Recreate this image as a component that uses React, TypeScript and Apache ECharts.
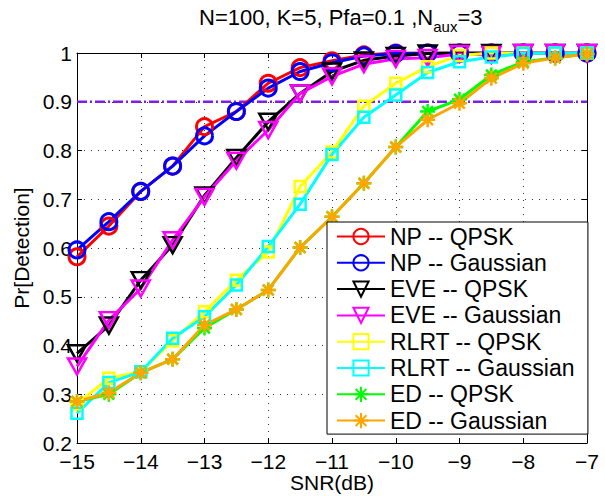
import React, { useEffect, useRef } from "react";
import * as echarts from "echarts";

const snr = [-15, -14.5, -14, -13.5, -13, -12.5, -12, -11.5, -11, -10.5, -10, -9.5, -9, -8.5, -8, -7.5, -7];

const npQpsk = [0.582, 0.645, 0.716, 0.768, 0.849, 0.88, 0.938, 0.97, 0.984, 0.996, 1, 1, 1, 1, 1, 1, 1];
const npGauss = [0.596, 0.654, 0.716, 0.768, 0.83, 0.88, 0.928, 0.962, 0.98, 0.994, 0.999, 1, 1, 1, 1, 1, 1];
const eveQpsk = [0.384, 0.441, 0.534, 0.606, 0.708, 0.785, 0.859, 0.917, 0.962, 0.985, 0.994, 0.999, 1, 1, 1, 1, 1];
const eveGauss = [0.357, 0.452, 0.517, 0.616, 0.705, 0.779, 0.842, 0.917, 0.952, 0.977, 0.988, 0.99, 0.998, 0.996, 1, 1, 1];
const rlrtQpsk = [0.28, 0.333, 0.346, 0.41, 0.469, 0.534, 0.592, 0.726, 0.797, 0.891, 0.938, 0.972, 0.995, 1, 1, 1, 1];
const rlrtGauss = [0.261, 0.324, 0.346, 0.415, 0.459, 0.524, 0.603, 0.69, 0.792, 0.868, 0.914, 0.96, 0.982, 0.992, 0.999, 1, 1];
const edQpsk = [0.285, 0.3, 0.344, 0.372, 0.436, 0.474, 0.514, 0.601, 0.664, 0.733, 0.807, 0.88, 0.905, 0.955, 0.982, 0.99, 0.998];
const edGauss = [0.285, 0.303, 0.344, 0.372, 0.442, 0.474, 0.514, 0.601, 0.664, 0.733, 0.807, 0.863, 0.897, 0.948, 0.979, 0.99, 0.998];

const threshold = 0.9;

const seriesNames = [
  "NP -- QPSK",
  "NP -- Gaussian",
  "EVE -- QPSK",
  "EVE -- Gaussian",
  "RLRT -- QPSK",
  "RLRT -- Gaussian",
  "ED -- QPSK",
  "ED -- Gaussian",
];
const seriesValues = [npQpsk, npGauss, eveQpsk, eveGauss, rlrtQpsk, rlrtGauss, edQpsk, edGauss];
const seriesColors = ["#ff0000", "#0000ff", "#000000", "#ff00ff", "#ffff00", "#00ffff", "#00ff00", "#ffa500"];
const seriesMarkers = ["circle", "circle", "tri", "tri", "square", "square", "star", "star"];

const FONT = "'Liberation Sans', Arial, Helvetica, sans-serif";

const STAR = "path://M0,8 L16,8 M8,0 L8,16 M2.3,2.3 L13.7,13.7 M13.7,2.3 L2.3,13.7";
const TRI_DOWN = "path://M0,0 L20,0 L10,17.3 Z";

function markerOpts(kind: string) {
  switch (kind) {
    case "circle":
      return { symbol: "circle", symbolSize: 16, borderWidth: 3 };
    case "tri":
      return { symbol: TRI_DOWN, symbolSize: [18, 16], borderWidth: 2.5 };
    case "square":
      return { symbol: "rect", symbolSize: 11, borderWidth: 2.5 };
    default:
      return { symbol: STAR, symbolSize: 15, borderWidth: 2.5, keep: true };
  }
}

const fmtNum = (v: number) => (v < 0 ? "\u2212" + String(Math.abs(v)) : String(v));

export default function App() {
  const ref = useRef<HTMLDivElement>(null);

  useEffect(() => {
    if (!ref.current) return;
    const chart = echarts.init(ref.current, null, { renderer: "svg" });

    const lineSeries: any[] = seriesNames.map((name, i) => {
      const m: any = markerOpts(seriesMarkers[i]);
      return {
        name,
        type: "line",
        data: snr.map((x, j) => [x, seriesValues[i][j]]),
        symbol: m.symbol,
        symbolSize: m.symbolSize,
        symbolKeepAspect: !!m.keep,
        showSymbol: true,
        lineStyle: { color: seriesColors[i], width: 3 },
        itemStyle: { color: "rgba(0,0,0,0)", borderColor: seriesColors[i], borderWidth: m.borderWidth },
        emphasis: { disabled: true },
        z: 3,
      };
    });

    const option: any = {
      animation: false,
      backgroundColor: "#ffffff",
      title: {
        text: "{a|N=100, K=5, Pfa=0.1 ,N}{s|aux}{a|=3}",
        left: 194,
        top: 1,
        textStyle: {
          fontWeight: "normal",
          rich: {
            a: { fontSize: 22, lineHeight: 23, fontWeight: "normal", color: "#000", fontFamily: FONT, verticalAlign: "top" },
            s: { fontSize: 15, lineHeight: 15, fontWeight: "normal", color: "#000", fontFamily: FONT, verticalAlign: "top", padding: [13, 0, 0, 0] },
          },
        },
      },
      grid: { left: 77, top: 53, right: 18, bottom: 53, containLabel: false, outerBoundsMode: "none" },
      legend: {
        data: seriesNames,
        orient: "vertical",
        left: 327,
        top: 222,
        itemWidth: 48,
        itemHeight: 19,
        itemGap: 3.3,
        padding: [3, 13, 2, 9],
        backgroundColor: "#ffffff",
        borderColor: "#000000",
        borderWidth: 1,
        borderRadius: 0,
        selectedMode: false,
        textStyle: { fontSize: 23, lineHeight: 23, color: "#000", fontFamily: FONT },
      },
      xAxis: [
        {
          type: "value",
          min: -15,
          max: -7,
          interval: 1,
          position: "bottom",
          name: "SNR(dB)",
          nameLocation: "middle",
          nameGap: 31,
          nameMoveOverlap: false,
          nameTextStyle: { fontSize: 21, lineHeight: 17, color: "#000", fontFamily: FONT },
          axisLine: { show: true, onZero: false, lineStyle: { color: "#000", width: 1 } },
          axisTick: { show: true, inside: true, length: 5, lineStyle: { color: "#000" } },
          axisLabel: { fontSize: 21, lineHeight: 17, color: "#000", fontFamily: FONT, margin: 10, formatter: fmtNum },
          splitLine: { show: true, lineStyle: { color: "#333", width: 1, type: [1, 6] } },
        },
        {
          type: "value",
          min: -15,
          max: -7,
          interval: 1,
          position: "top",
          axisLine: { show: true, onZero: false, lineStyle: { color: "#000", width: 1 } },
          axisTick: { show: true, inside: true, length: 5, lineStyle: { color: "#000" } },
          axisLabel: { show: false },
          splitLine: { show: false },
        },
      ],
      yAxis: [
        {
          type: "value",
          min: 0.2,
          max: 1,
          interval: 0.1,
          position: "left",
          name: "Pr[Detection]",
          nameLocation: "middle",
          nameGap: 45,
          nameMoveOverlap: false,
          nameTextStyle: { fontSize: 21, color: "#000", fontFamily: FONT },
          axisLine: { show: true, onZero: false, lineStyle: { color: "#000", width: 1 } },
          axisTick: { show: true, inside: true, length: 5, lineStyle: { color: "#000" } },
          axisLabel: {
            fontSize: 21,
            lineHeight: 17,
            color: "#000",
            fontFamily: FONT,
            margin: 5,
            formatter: (v: number) => String(Math.round(v * 10) / 10),
          },
          splitLine: { show: true, lineStyle: { color: "#333", width: 1, type: [1, 6] } },
        },
        {
          type: "value",
          min: 0.2,
          max: 1,
          interval: 0.1,
          position: "right",
          axisLine: { show: true, onZero: false, lineStyle: { color: "#000", width: 1 } },
          axisTick: { show: true, inside: true, length: 5, lineStyle: { color: "#000" } },
          axisLabel: { show: false },
          splitLine: { show: false },
        },
      ],
      series: [
        {
          name: "threshold",
          type: "line",
          data: [
            [snr[0], threshold],
            [snr[snr.length - 1], threshold],
          ],
          showSymbol: false,
          symbol: "none",
          lineStyle: { color: "#7f1fe6", width: 2.5, type: [10, 3, 2, 3] },
          emphasis: { disabled: true },
          z: 2,
        },
        ...lineSeries,
      ],
    };

    chart.setOption(option);
    return () => chart.dispose();
  }, []);

  return (
    <div
      ref={ref}
      style={{ position: "fixed", left: 0, top: 0, width: 605, height: 496, background: "#fff" }}
    />
  );
}
